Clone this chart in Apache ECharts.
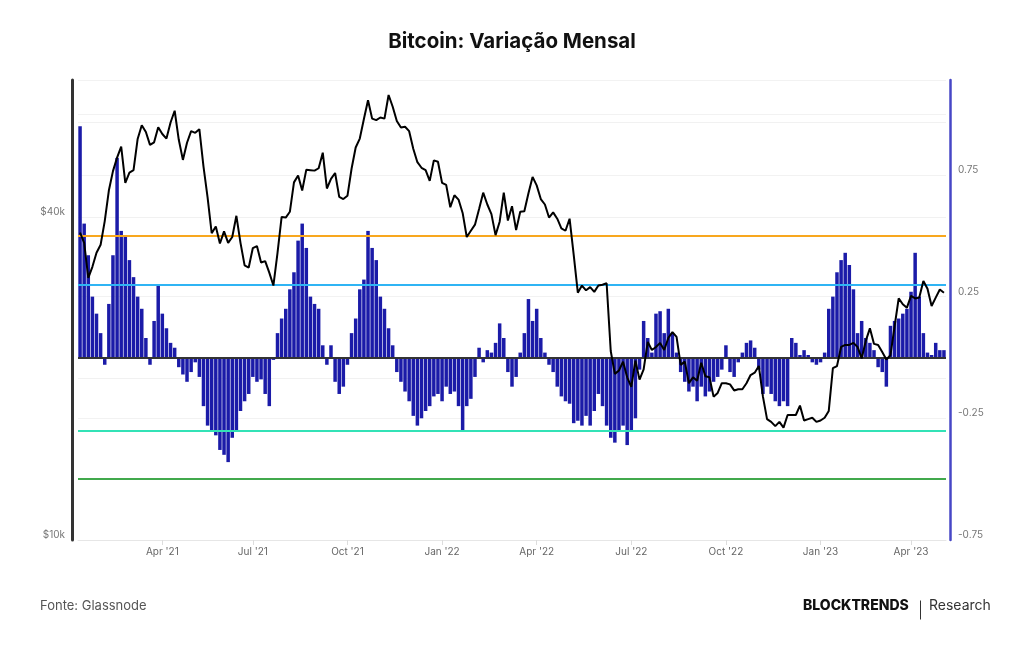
<!DOCTYPE html>
<html>
<head>
<meta charset="utf-8">
<title>Bitcoin: Variação Mensal</title>
<script src="https://cdn.jsdelivr.net/npm/echarts@6/dist/echarts.min.js"></script>
<style>
  html, body { margin: 0; padding: 0; background: #fff; }
  #chart { width: 1024px; height: 645px; }
</style>
</head>
<body>
<div id="chart"></div>
<script>
// one sample every 4 days, first one on 2021-01-13
var startDate = '2021-01-13';
var stepDays = 4;

// monthly variation (right axis)
var monthlyChange = [
  0.95, 0.55, 0.42, 0.25, 0.18, 0.1, -0.03, 0.22, 0.42, 0.82,
  0.52, 0.5, 0.4, 0.33, 0.25, 0.2, 0.08, -0.03, 0.15, 0.3,
  0.18, 0.12, 0.06, 0.04, -0.04, -0.07, -0.1, -0.06, -0.02, -0.08,
  -0.2, -0.28, -0.3, -0.32, -0.38, -0.4, -0.43, -0.33, -0.3, -0.22,
  -0.18, -0.15, -0.08, -0.1, -0.09, -0.15, -0.2, -0.01, 0.1, 0.16,
  0.2, 0.28, 0.35, 0.48, 0.55, 0.45, 0.25, 0.22, 0.2, 0.05,
  -0.03, 0.05, -0.1, -0.15, -0.12, -0.03, 0.1, 0.16, 0.28, 0.32,
  0.52, 0.45, 0.4, 0.25, 0.2, 0.12, 0.05, -0.06, -0.1, -0.14,
  -0.18, -0.24, -0.28, -0.25, -0.22, -0.2, -0.16, -0.15, -0.18, -0.12,
  -0.15, -0.14, -0.2, -0.3, -0.2, -0.17, -0.08, 0.04, -0.02, 0.03,
  0.02, 0.06, 0.14, 0.08, -0.06, -0.12, -0.08, 0.02, 0.1, 0.24,
  0.15, 0.2, 0.08, 0.02, -0.03, -0.06, -0.12, -0.16, -0.18, -0.19,
  -0.27, -0.26, -0.28, -0.24, -0.28, -0.22, -0.15, -0.2, -0.28, -0.33,
  -0.35, -0.3, -0.28, -0.36, -0.3, -0.25, -0.05, 0.15, 0.08, 0.02,
  0.18, 0.19, 0.1, 0.2, 0.1, 0.02, -0.06, -0.1, -0.14, -0.12,
  -0.18, -0.12, -0.16, -0.14, -0.1, -0.08, -0.05, 0.05, -0.06, -0.08,
  -0.02, 0.02, 0.06, 0.07, 0.04, -0.05, -0.15, -0.12, -0.15, -0.18,
  -0.2, -0.18, -0.2, 0.08, 0.06, 0.01, 0.03, 0.01, -0.02, -0.03,
  -0.02, 0.02, 0.2, 0.25, 0.35, 0.4, 0.43, 0.38, 0.28, 0.1,
  0.15, 0.08, 0.06, 0.03, -0.04, -0.06, -0.12, 0.13, 0.15, 0.16,
  0.18, 0.2, 0.27, 0.43, 0.25, 0.1, 0.02, 0.01, 0.06, 0.03,
  0.03
];

// BTC price in USD (left axis, log)
var price = [
  37400, 35800, 30800, 32300, 34300, 35500, 39300, 44800, 48700, 51600,
  54100, 46300, 48400, 48900, 55900, 59300, 57600, 54500, 55100, 58800,
  57100, 56000, 60000, 63100, 55700, 51100, 55000, 57800, 57400, 58300,
  49700, 43500, 37300, 38400, 35700, 37600, 35800, 36700, 40200, 35800,
  32500, 32200, 35000, 35300, 32900, 33100, 31500, 29800, 34300, 40000,
  39900, 40900, 46400, 47800, 44800, 49000, 48900, 48800, 49300, 52700,
  45200, 47100, 48300, 43600, 43200, 43800, 49200, 53900, 56000, 60900,
  66000, 61000, 60600, 61300, 61000, 67500, 64200, 60400, 58700, 58900,
  57800, 53600, 50600, 49400, 48900, 46700, 51000, 50700, 46300, 45900,
  41700, 43900, 43100, 40700, 36700, 37700, 38700, 41400, 44400, 42200,
  40500, 37000, 39200, 44400, 39400, 41900, 37800, 40900, 41000, 44300,
  47500, 45800, 43200, 42200, 39900, 40800, 39700, 38100, 37700, 39700,
  34000, 28900, 29800, 29200, 29600, 29000, 29800, 29900, 30100, 22500,
  20400, 20700, 21500, 20100, 19300, 21600, 19900, 20800, 23400, 22600,
  22900, 23300, 22600, 23800, 24400, 23900, 21200, 21500, 19600, 20100,
  19800, 21400, 20200, 20100, 18500, 18800, 19600, 19600, 19500, 19000,
  19100, 19100, 19600, 20300, 20500, 21100, 18500, 16800, 16600, 16300,
  16600, 16200, 17100, 17100, 17100, 17800, 16700, 16800, 16900, 16600,
  16700, 16900, 17400, 20900, 21100, 22900, 23100, 23100, 23300, 22900,
  21800, 23500, 24800, 23200, 23100, 22400, 21700, 22100, 25000, 28200,
  27500, 27100, 28500, 28200, 28300, 30400, 29400, 27300, 28300, 29300,
  28900
];

// reference levels on the right axis
var levelValues = [0.5, 0.3, 0, -0.3, -0.5];
var levelColors = ['#f8a71e', '#2fb4f4', '#333333', '#33e2b6', '#41a94c'];

var priceGridValues = [20000, 40000, 60000];
var priceLabelValues = [10000, 40000];
var priceLabelTexts = ['$10k', '$40k'];
var rightLabelValues = [0.75, 0.25, -0.25, -0.75];
var monthNames = ['Jan', 'Feb', 'Mar', 'Apr', 'May', 'Jun', 'Jul', 'Aug', 'Sep', 'Oct', 'Nov', 'Dec'];

var DAY = 86400000;
var dates = [];
var t0 = Date.parse(startDate);
for (var i = 0; i < price.length; i++) {
  dates.push(new Date(t0 + i * stepDays * DAY).toISOString().slice(0, 10));
}

// first day of a quarter that falls inside this sample's 4 day slot
function quarterStart(idx) {
  var d = Date.parse(dates[idx]);
  var dt = new Date(d);
  var y = dt.getUTCFullYear(), m = dt.getUTCMonth();
  var cands = [Date.UTC(y, m, 1), Date.UTC(y, m + 1, 1)];
  for (var k = 0; k < cands.length; k++) {
    var c = cands[k];
    if (new Date(c).getUTCMonth() % 3 === 0 && c >= d - 2 * DAY && c < d + 2 * DAY) return new Date(c);
  }
  return null;
}

var levelLines = levelValues.map(function (v, k) {
  return { yAxis: v, lineStyle: { color: levelColors[k], width: 2, type: 'solid' } };
});

var priceMarks = [];
priceGridValues.forEach(function (v) {
  priceMarks.push({ yAxis: v, lineStyle: { color: '#f1f1f1', width: 1, type: 'solid' }, label: { show: false } });
});
priceLabelValues.forEach(function (v, k) {
  priceMarks.push({
    yAxis: v,
    lineStyle: { color: 'rgba(255,255,255,0)', width: 1, type: 'solid' },
    label: {
      show: true,
      position: 'start',
      formatter: priceLabelTexts[k],
      color: '#777',
      fontFamily: 'Inter',
      fontSize: 10,
      distance: 13,
      verticalAlign: 'bottom'
    }
  });
});

var chart = echarts.init(document.getElementById('chart'));

var option = {
  animation: false,
  backgroundColor: '#ffffff',
  title: {
    text: 'Bitcoin: Variação Mensal',
    left: 'center',
    top: 26,
    textStyle: { fontFamily: 'Inter', fontWeight: 'bold', fontSize: 20.5, color: '#111' }
  },
  grid: { left: 78, right: 78, top: 80, bottom: 105 },
  xAxis: {
    type: 'category',
    data: dates,
    axisLine: { show: true, onZero: false, lineStyle: { color: '#e6e6e6', width: 1 } },
    axisTick: {
      show: true,
      alignWithLabel: true,
      length: 5,
      interval: function (index) { return quarterStart(index) !== null; },
      lineStyle: { color: '#dddddd' }
    },
    axisLabel: {
      interval: function (index) { return quarterStart(index) !== null; },
      formatter: function (value, index) {
        var q = quarterStart(index);
        return q ? monthNames[q.getUTCMonth()] + " '" + String(q.getUTCFullYear()).slice(2) : '';
      },
      color: '#666',
      fontFamily: 'Inter',
      fontSize: 10,
      margin: 7
    },
    splitLine: { show: false }
  },
  yAxis: [
    {
      type: 'log',
      position: 'left',
      min: 10000,
      max: 72000,
      offset: 6,
      axisLine: { show: true, lineStyle: { color: '#333', width: 3 } },
      axisTick: { show: false },
      axisLabel: { show: false },
      splitLine: { show: false }
    },
    {
      type: 'value',
      position: 'right',
      min: -0.75,
      max: 1.14,
      interval: 0.25,
      offset: 4,
      axisLine: { show: true, lineStyle: { color: '#4747c6', width: 2.5 } },
      axisTick: { show: false },
      axisLabel: {
        formatter: function (v) { return rightLabelValues.indexOf(v) >= 0 ? String(v) : ''; },
        color: '#777',
        fontFamily: 'Inter',
        fontSize: 10,
        margin: 8,
        verticalAlign: 'bottom'
      },
      splitLine: { show: true, lineStyle: { color: '#f2f2f2', width: 1 } }
    }
  ],
  series: [
    {
      name: 'Variação Mensal',
      type: 'bar',
      yAxisIndex: 1,
      data: monthlyChange,
      barWidth: 3.5,
      itemStyle: { color: '#1b1ba8' },
      z: 2,
      markLine: {
        z: 3,
        silent: true,
        symbol: 'none',
        label: { show: false },
        data: levelLines
      }
    },
    {
      name: 'Preço',
      type: 'line',
      yAxisIndex: 0,
      data: price,
      showSymbol: false,
      lineStyle: { color: '#000', width: 2 },
      itemStyle: { color: '#000' },
      z: 4,
      markLine: {
        z: 1,
        silent: true,
        symbol: 'none',
        data: priceMarks
      }
    }
  ],
  graphic: [
    {
      type: 'text', left: 40, top: 600,
      style: { text: 'Fonte: Glassnode', fill: '#555', font: '13px Inter' }
    },
    {
      type: 'text', left: 803, top: 599,
      style: { text: 'BLOCKTRENDS', fill: '#111', font: '800 14px Inter' }
    },
    {
      type: 'line', left: 918, top: 598,
      shape: { x1: 0, y1: 0, x2: 0, y2: 19 },
      style: { stroke: '#333', lineWidth: 1 }
    },
    {
      type: 'text', left: 929, top: 599,
      style: { text: 'Research', fill: '#333', font: '14px Inter' }
    }
  ]
};

chart.setOption(option);
</script>
</body>
</html>
